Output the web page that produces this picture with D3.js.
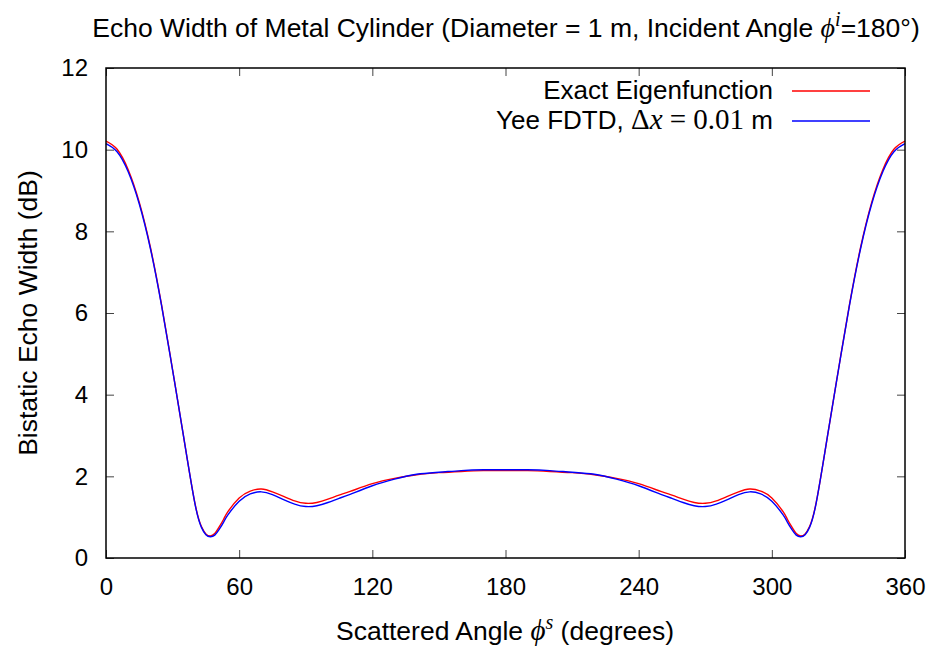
<!DOCTYPE html>
<html>
<head>
<meta charset="utf-8">
<script src="https://cdn.jsdelivr.net/npm/d3@7"></script>
<style>
body { margin: 0; background: #fff; }
text { font-family: "Liberation Sans", Arial, sans-serif; fill: #000; }
.math { font-family: "Liberation Serif", "DejaVu Serif", serif; }
</style>
</head>
<body>
<svg width="930" height="648"></svg>
<script>
// scattered angle (degrees)
var angles = [0, 5, 10, 15, 20, 25, 30, 35, 40, 43, 45, 47, 49, 51, 53, 55, 60, 65, 70, 75, 80, 85, 90, 95, 100, 105, 110, 120, 130, 140, 150, 160, 170, 180,
	190, 200, 210, 220, 230, 240, 250, 255, 260, 265, 270, 275, 280, 285, 290, 295, 300, 305, 307, 309, 311, 313, 315, 317, 320, 325, 330, 335, 340, 345, 350, 355, 360];
// exact eigenfunction (dB)
var exact = [10.21, 10.01, 9.51, 8.71, 7.61, 6.21, 4.61, 2.96, 1.36, 0.77, 0.59, 0.54, 0.60, 0.76, 0.95, 1.14, 1.47, 1.64, 1.69, 1.62, 1.51, 1.40, 1.34, 1.36, 1.44, 1.54, 1.63, 1.82, 1.95, 2.04, 2.09, 2.12, 2.14, 2.14,
	2.14, 2.12, 2.09, 2.04, 1.95, 1.82, 1.63, 1.54, 1.44, 1.36, 1.34, 1.40, 1.51, 1.62, 1.69, 1.64, 1.47, 1.14, 0.95, 0.76, 0.60, 0.54, 0.59, 0.77, 1.36, 2.96, 4.61, 6.21, 7.61, 8.71, 9.51, 10.01, 10.21];
// Yee FDTD, dx = 0.01 m (dB)
var fdtd = [10.15, 9.95, 9.46, 8.67, 7.58, 6.19, 4.60, 2.96, 1.35, 0.75, 0.57, 0.52, 0.56, 0.70, 0.88, 1.06, 1.39, 1.57, 1.62, 1.55, 1.43, 1.32, 1.26, 1.28, 1.36, 1.46, 1.56, 1.77, 1.93, 2.05, 2.10, 2.14, 2.16, 2.16,
	2.16, 2.14, 2.10, 2.05, 1.93, 1.77, 1.56, 1.46, 1.36, 1.28, 1.26, 1.32, 1.43, 1.55, 1.62, 1.57, 1.39, 1.06, 0.88, 0.70, 0.56, 0.52, 0.57, 0.75, 1.35, 2.96, 4.60, 6.19, 7.58, 8.67, 9.46, 9.95, 10.15];
var xTicks = [0, 60, 120, 180, 240, 300, 360];
var yTicks = [0, 2, 4, 6, 8, 10, 12];

var pLeft = 106, pRight = 905, pTop = 68, pBottom = 558;
var tick = 8;

var svg = d3.select("svg");
var x = d3.scaleLinear().domain([0, 360]).range([pLeft, pRight]);
var y = d3.scaleLinear().domain([0, 12]).range([pBottom, pTop]);

// ticks (inward, mirrored)
svg.append("g").attr("transform", "translate(0," + pBottom + ")")
	.call(d3.axisBottom(x).tickValues(xTicks).tickSize(-tick).tickPadding(20).tickFormat(d3.format("d")))
	.call(g => g.select(".domain").remove());
svg.append("g").attr("transform", "translate(0," + pTop + ")")
	.call(d3.axisTop(x).tickValues(xTicks).tickSize(-tick).tickFormat(""))
	.call(g => g.select(".domain").remove());
svg.append("g").attr("transform", "translate(" + pLeft + ",0)")
	.call(d3.axisLeft(y).tickValues(yTicks).tickSize(-tick).tickPadding(18))
	.call(g => g.select(".domain").remove());
svg.append("g").attr("transform", "translate(" + pRight + ",0)")
	.call(d3.axisRight(y).tickValues(yTicks).tickSize(-tick).tickFormat(""))
	.call(g => g.select(".domain").remove());

svg.selectAll(".tick line").attr("stroke", "#444").attr("stroke-width", 1);
svg.selectAll(".tick text").style("font-family", "Liberation Sans, Arial, sans-serif").style("font-size", "24px").attr("fill", "#000");

var line = d3.line()
	.x((d, i) => x(angles[i]))
	.y(d => y(d))
	.curve(d3.curveNatural);

svg.append("path").datum(exact)
	.attr("fill", "none").attr("stroke", "#ff0000").attr("stroke-width", 1.4)
	.attr("d", line);
svg.append("path").datum(fdtd)
	.attr("fill", "none").attr("stroke", "#0000ff").attr("stroke-width", 1.4)
	.attr("d", line);

// frame
svg.append("rect")
	.attr("x", pLeft).attr("y", pTop).attr("width", pRight - pLeft).attr("height", pBottom - pTop)
	.attr("fill", "none").attr("stroke", "#000").attr("stroke-width", 1.5);

// legend
var legend = [
	{ color: "#ff0000", y: 91 },
	{ color: "#0000ff", y: 121 }
];
svg.selectAll("line.leg").data(legend).enter().append("line").classed("leg", true)
	.attr("x1", 792).attr("x2", 870)
	.attr("y1", d => d.y).attr("y2", d => d.y)
	.attr("stroke", d => d.color).attr("stroke-width", 1.4);

svg.append("text").attr("x", 773).attr("y", 99).attr("text-anchor", "end")
	.style("font-size", "26px").text("Exact Eigenfunction");
var t2 = svg.append("text").attr("x", 773).attr("y", 129).attr("text-anchor", "end").style("font-size", "26px");
t2.append("tspan").text("Yee FDTD, ");
t2.append("tspan").attr("class", "math").style("font-size", "29px").text("\u0394");
t2.append("tspan").attr("class", "math").style("font-size", "29px").style("font-style", "italic").text("x");
t2.append("tspan").attr("class", "math").style("font-size", "29px").text(" = 0.01");
t2.append("tspan").text(" m");

// title
var title = svg.append("text").attr("x", 506).attr("y", 37).attr("text-anchor", "middle").style("font-size", "26.5px");
title.append("tspan").text("Echo Width of Metal Cylinder (Diameter = 1 m, Incident Angle ");
title.append("tspan").attr("class", "math").style("font-style", "italic").style("font-size", "28px").text("\u03d5");
title.append("tspan").attr("class", "math").style("font-style", "italic").style("font-size", "20px").attr("dy", -11).text("i");
title.append("tspan").attr("dy", 11).text("=180\u00b0)");

// x label
var xl = svg.append("text").attr("x", 505).attr("y", 640).attr("text-anchor", "middle").style("font-size", "26.5px");
xl.append("tspan").text("Scattered Angle ");
xl.append("tspan").attr("class", "math").style("font-style", "italic").style("font-size", "29px").text("\u03d5");
xl.append("tspan").attr("class", "math").style("font-style", "italic").style("font-size", "20px").attr("dy", -11).text("s");
xl.append("tspan").attr("dy", 11).text(" (degrees)");

// y label
svg.append("text")
	.attr("transform", "translate(37,313) rotate(-90)")
	.attr("text-anchor", "middle").style("font-size", "26.5px")
	.text("Bistatic Echo Width (dB)");
</script>
</body>
</html>
